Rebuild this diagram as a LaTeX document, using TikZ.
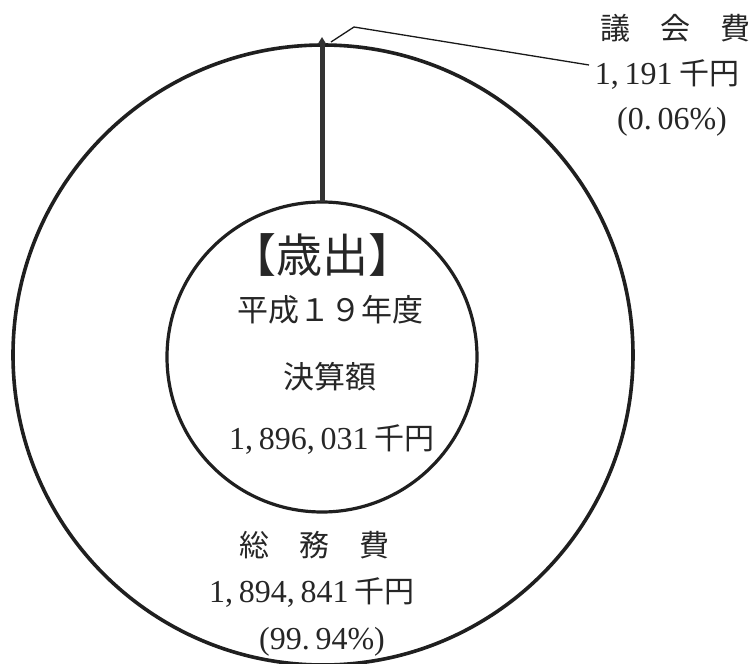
\documentclass[tikz,border=0pt]{standalone}
\usepackage{fontspec}
\setmainfont{Liberation Serif}
\newfontfamily\jp{Noto Sans CJK JP}
\usetikzlibrary{arrows.meta}
\tikzset{
  ring/.style={circle, draw=black!88, line width=3.6pt, inner sep=0pt, outer sep=0pt},
  txt/.style={inner sep=0pt, outer sep=0pt, anchor=center, text=black!85,
              font=\fontsize{32}{34}\selectfont},
  jtxt/.style={txt, font=\jp\fontsize{30}{32}\selectfont},
  leader/.style={draw=black!90, line width=1.3pt},
  spoke/.style={draw=black!80, line width=5pt}
}
\newcommand{\cs}{,\hspace{0.18em}}
\begin{document}
\begin{tikzpicture}[x=1pt,y=-1pt]
\useasboundingbox (0,0) rectangle (750,664);
\fill[white] (0,0) rectangle (750,664);
% rings
\node[ring, minimum size=620pt] (outer) at (323,355) {};
\node[ring, minimum size=310pt, line width=3.2pt] (inner) at (322,357) {};
% spoke from inner to outer circle
\coordinate (top) at (322,37);
\draw[spoke, -{Triangle[width=8pt,length=7pt]}] (inner.north) -- (top);
% leader to label
\coordinate (lstart) at (331,42);
\coordinate (lbend) at (354,27);
\coordinate (lend) at (589,65);
\draw[leader] (lstart) -- (lbend) -- (lend);
% centre texts
\node[jtxt, font=\jp\fontsize{46}{48}\selectfont] (title) at (322,255) {【歳出】};
\node[jtxt, font=\jp\fontsize{31}{33}\selectfont] (year) at (330,310) {平成１９年度};
\node[jtxt, font=\jp\fontsize{31}{33}\selectfont] (kessan) at (330,377) {決算額};
\node[txt] (total) at (332,440) {1\cs896\cs031\hspace{0.2em}{\jp\fontsize{30}{32}\selectfont 千円}};
% general affairs
\node[jtxt] (somu) at (314,545) {総　務　費};
\node[txt] (somuamt) at (312,593) {1\cs894\cs841\hspace{0.2em}{\jp\fontsize{30}{32}\selectfont 千円}};
\node[txt] (somupct) at (322,642) {(99.\hspace{0.18em}94\%)};
% assembly
\node[jtxt] (gikai) at (675,28) {議　会　費};
\node[txt] (gikaiamt) at (667,75) {1\cs191\hspace{0.2em}{\jp\fontsize{30}{32}\selectfont 千円}};
\node[txt] (gikaipct) at (672,122) {(0.\hspace{0.18em}06\%)};
\end{tikzpicture}
\end{document}
